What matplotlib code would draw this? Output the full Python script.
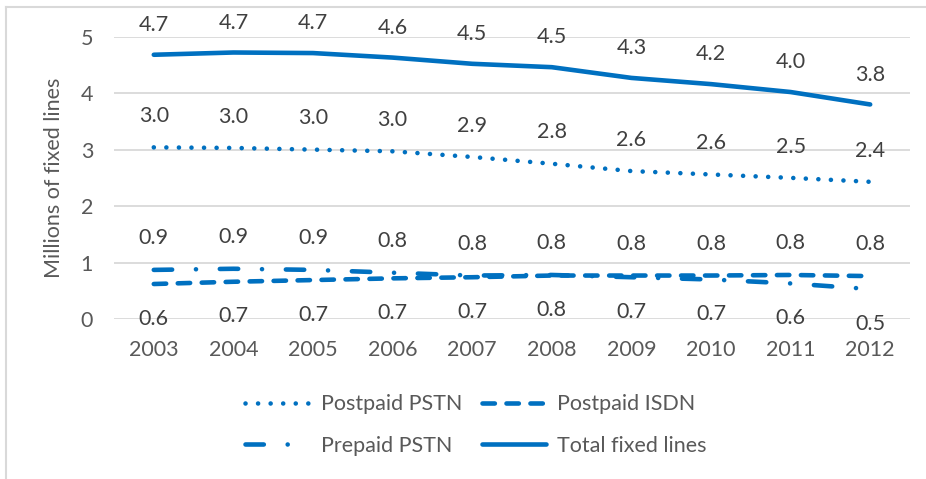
import matplotlib
matplotlib.use("Agg")
import matplotlib.pyplot as plt
from matplotlib.lines import Line2D
import numpy as np

years = [2003, 2004, 2005, 2006, 2007, 2008, 2009, 2010, 2011, 2012]
postpaid_pstn = [3.04, 3.03, 3.00, 2.97, 2.87, 2.75, 2.62, 2.56, 2.50, 2.43]
postpaid_isdn = [0.62, 0.66, 0.69, 0.72, 0.74, 0.77, 0.77, 0.77, 0.78, 0.76]
prepaid_pstn = [0.87, 0.89, 0.87, 0.82, 0.77, 0.78, 0.74, 0.70, 0.63, 0.53]
total_lines = [4.68, 4.72, 4.71, 4.63, 4.52, 4.46, 4.27, 4.16, 4.02, 3.80]

blue = "#0070C0"
grey_txt = "#595959"
lab_txt = "#404040"
fs = 15.5
lw = 3.3

plt.rcParams['font.family'] = ['Lato', 'DejaVu Sans']

fig = plt.figure(figsize=(9.26, 4.79), dpi=100)
ax = fig.add_axes([0.1231, 0.334, 0.8596, 0.5894])

ax.plot(years, postpaid_pstn, color=blue, lw=lw, linestyle=(0, (0.01, 2.73)),
        dash_capstyle='round', label="Postpaid PSTN")
ax.plot(years, postpaid_isdn, color=blue, lw=lw, linestyle=(0, (2.7, 2.53)),
        dash_capstyle='round', label="Postpaid ISDN")
ax.plot(years, prepaid_pstn, color=blue, lw=lw, linestyle=(0, (4.0, 5.2, 0.01, 5.2)),
        dash_capstyle='round', label="Prepaid PSTN")
ax.plot(years, total_lines, color=blue, lw=lw, solid_capstyle='round',
        label="Total fixed lines")

# data labels
for x, v in zip(years, total_lines):
    ax.annotate(f"{v:.1f}", (x, v), xytext=(0, 21.5), textcoords='offset points',
                ha='center', va='center', fontsize=fs, color=lab_txt)
for x, v in zip(years, postpaid_pstn):
    ax.annotate(f"{v:.1f}", (x, v), xytext=(0, 22.5), textcoords='offset points',
                ha='center', va='center', fontsize=fs, color=lab_txt)
hi = np.maximum(postpaid_isdn, prepaid_pstn)
lo = np.minimum(postpaid_isdn, prepaid_pstn)
for x, v in zip(years, hi):
    ax.annotate(f"{v:.1f}", (x, v), xytext=(0, 23), textcoords='offset points',
                ha='center', va='center', fontsize=fs, color=lab_txt)
for x, v in zip(years, lo):
    ax.annotate(f"{v:.1f}", (x, v), xytext=(0, -25), textcoords='offset points',
                ha='center', va='center', fontsize=fs, color=lab_txt)

ax.set_xlim(2002.5, 2012.5)
ax.set_ylim(0, 5)
ax.set_xticks(years)
ax.set_yticks([0, 1, 2, 3, 4, 5])
ax.tick_params(length=0, labelsize=fs, labelcolor=grey_txt, pad=15)
ax.tick_params(axis='x', pad=15)
for s in ax.spines.values():
    s.set_visible(False)
ax.grid(axis='y', color='#D9D9D9', lw=1.3)
ax.set_axisbelow(True)
ax.set_ylabel("Millions of fixed lines", fontsize=fs, color=grey_txt)
ax.yaxis.set_label_coords(-0.063, 0.5)

h, l = ax.get_legend_handles_labels()
order = [0, 2, 1, 3]
fig.legend([h[i] for i in order], [l[i] for i in order], loc='center',
           bbox_to_anchor=(0.514, 0.113), ncol=2, frameon=False, fontsize=fs,
           labelcolor=grey_txt, handlelength=3.0, handletextpad=0.5,
           columnspacing=0.9, labelspacing=1.0, borderpad=0)

# chart frame (left and top edges visible in the crop)
fig.add_artist(Line2D([0.0065, 0.0065], [0, 0.985], color='#D9D9D9', lw=1.5))
fig.add_artist(Line2D([0.0065, 1.0], [0.985, 0.985], color='#D9D9D9', lw=1.5))

fig.savefig("out.png", dpi=100)
